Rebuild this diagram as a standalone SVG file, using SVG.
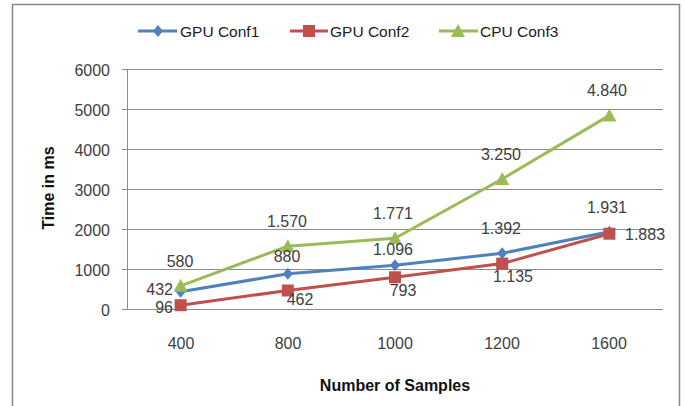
<svg xmlns="http://www.w3.org/2000/svg" width="684" height="406" viewBox="0 0 684 406">
<defs>
<style>
text{font-family:"Liberation Sans",Arial,sans-serif;fill:#404040;}
.lbl{font-size:16px;dominant-baseline:central;}
.tick{font-size:16px;dominant-baseline:central;}
.leg{font-size:15.5px;dominant-baseline:central;fill:#222;}
.title{font-size:16px;font-weight:bold;fill:#111;dominant-baseline:central;text-anchor:middle;}
.grid{stroke:#8c8c8c;stroke-width:1;}
.s1{fill:none;stroke:#4F81BD;stroke-width:3;stroke-linejoin:round;}
.s2{fill:none;stroke:#C0504D;stroke-width:3;stroke-linejoin:round;}
.s3{fill:none;stroke:#9BBB59;stroke-width:3;stroke-linejoin:round;}
.m1{fill:#4F81BD;}
.m2{fill:#C0504D;}
.m3{fill:#9BBB59;}
</style>
<path id="dia" d="M0,-6 L5,0 L0,6 L-5,0 Z"/>
<rect id="sq" x="-6" y="-6" width="12" height="12"/>
<path id="tri" d="M0,-7 L7,6 L-7,6 Z"/>
</defs>
<rect width="684" height="406" fill="#fff"/>
<rect x="12.5" y="4.5" width="667" height="410" fill="none" stroke="#888" stroke-width="1.5"/>

<g id="legend">
<line x1="138" y1="31" x2="177" y2="31" class="s1"/>
<use href="#dia" x="158" y="31" class="m1"/>
<text class="leg" x="180" y="31">GPU Conf1</text>
<line x1="290" y1="31" x2="328" y2="31" class="s2"/>
<use href="#sq" x="309" y="31" class="m2"/>
<text class="leg" x="330" y="31">GPU Conf2</text>
<line x1="439" y1="31" x2="478" y2="31" class="s3"/>
<use href="#tri" x="458" y="31" class="m3"/>
<text class="leg" x="480" y="31">CPU Conf3</text>
</g>

<g id="axes">
<line class="grid" x1="122" y1="69.5" x2="663" y2="69.5"/>
<line class="grid" x1="122" y1="109.5" x2="663" y2="109.5"/>
<line class="grid" x1="122" y1="149.5" x2="663" y2="149.5"/>
<line class="grid" x1="122" y1="189.5" x2="663" y2="189.5"/>
<line class="grid" x1="122" y1="229.5" x2="663" y2="229.5"/>
<line class="grid" x1="122" y1="269.5" x2="663" y2="269.5"/>
<line class="grid" x1="122" y1="309.5" x2="663" y2="309.5"/>
<line class="grid" x1="127.5" y1="69" x2="127.5" y2="309.5"/>
<g class="tick" text-anchor="end">
<text class="tick" x="110" y="70">6000</text>
<text class="tick" x="110" y="110">5000</text>
<text class="tick" x="110" y="150">4000</text>
<text class="tick" x="110" y="190">3000</text>
<text class="tick" x="110" y="230">2000</text>
<text class="tick" x="110" y="270">1000</text>
<text class="tick" x="110" y="310">0</text>
</g>
<g text-anchor="middle">
<text class="tick" x="181" y="343">400</text>
<text class="tick" x="288" y="343">800</text>
<text class="tick" x="395" y="343">1000</text>
<text class="tick" x="502" y="343">1200</text>
<text class="tick" x="609" y="343">1600</text>
</g>
<text class="title" x="395" y="385">Number of Samples</text>
<text class="title" transform="translate(48,188) rotate(-90)">Time in ms</text>
</g>

<g id="connectors">
<polyline class="s3" points="180.6,285.8 287.8,246.2 395,238.2 502.2,179 609.4,115.4"/>
<polyline class="s1" points="180.6,291.7 287.8,273.8 395,265.2 502.2,253.3 609.4,231.8"/>
<polyline class="s2" points="180.6,305.2 287.8,290.5 395,277.3 502.2,263.6 609.4,233.7"/>
</g>

<g id="series-gpu1">
<use href="#dia" x="180.6" y="291.7" class="m1"/>
<use href="#dia" x="287.8" y="273.8" class="m1"/>
<use href="#dia" x="395" y="265.2" class="m1"/>
<use href="#dia" x="502.2" y="253.3" class="m1"/>
<use href="#dia" x="609.4" y="231.8" class="m1"/>
</g>
<g id="series-gpu2">
<use href="#sq" x="180.6" y="305.2" class="m2"/>
<use href="#sq" x="287.8" y="290.5" class="m2"/>
<use href="#sq" x="395" y="277.3" class="m2"/>
<use href="#sq" x="502.2" y="263.6" class="m2"/>
<use href="#sq" x="609.4" y="233.7" class="m2"/>
</g>
<g id="series-cpu3">
<use href="#tri" x="180.6" y="285.8" class="m3"/>
<use href="#tri" x="287.8" y="246.2" class="m3"/>
<use href="#tri" x="395" y="238.2" class="m3"/>
<use href="#tri" x="502.2" y="179" class="m3"/>
<use href="#tri" x="609.4" y="115.4" class="m3"/>
</g>

<g id="labels" text-anchor="middle">
<text class="lbl" x="180" y="261">580</text>
<text class="lbl" x="173" y="289" text-anchor="end">432</text>
<text class="lbl" x="173" y="307.5" text-anchor="end">96</text>
<text class="lbl" x="287" y="221">1.570</text>
<text class="lbl" x="287" y="256">880</text>
<text class="lbl" x="300" y="299">462</text>
<text class="lbl" x="393" y="213">1.771</text>
<text class="lbl" x="393" y="249">1.096</text>
<text class="lbl" x="403" y="290">793</text>
<text class="lbl" x="501" y="154">3.250</text>
<text class="lbl" x="501" y="228">1.392</text>
<text class="lbl" x="513" y="276">1.135</text>
<text class="lbl" x="607" y="90">4.840</text>
<text class="lbl" x="607" y="207">1.931</text>
<text class="lbl" x="625" y="234" text-anchor="start">1.883</text>
</g>
</svg>
